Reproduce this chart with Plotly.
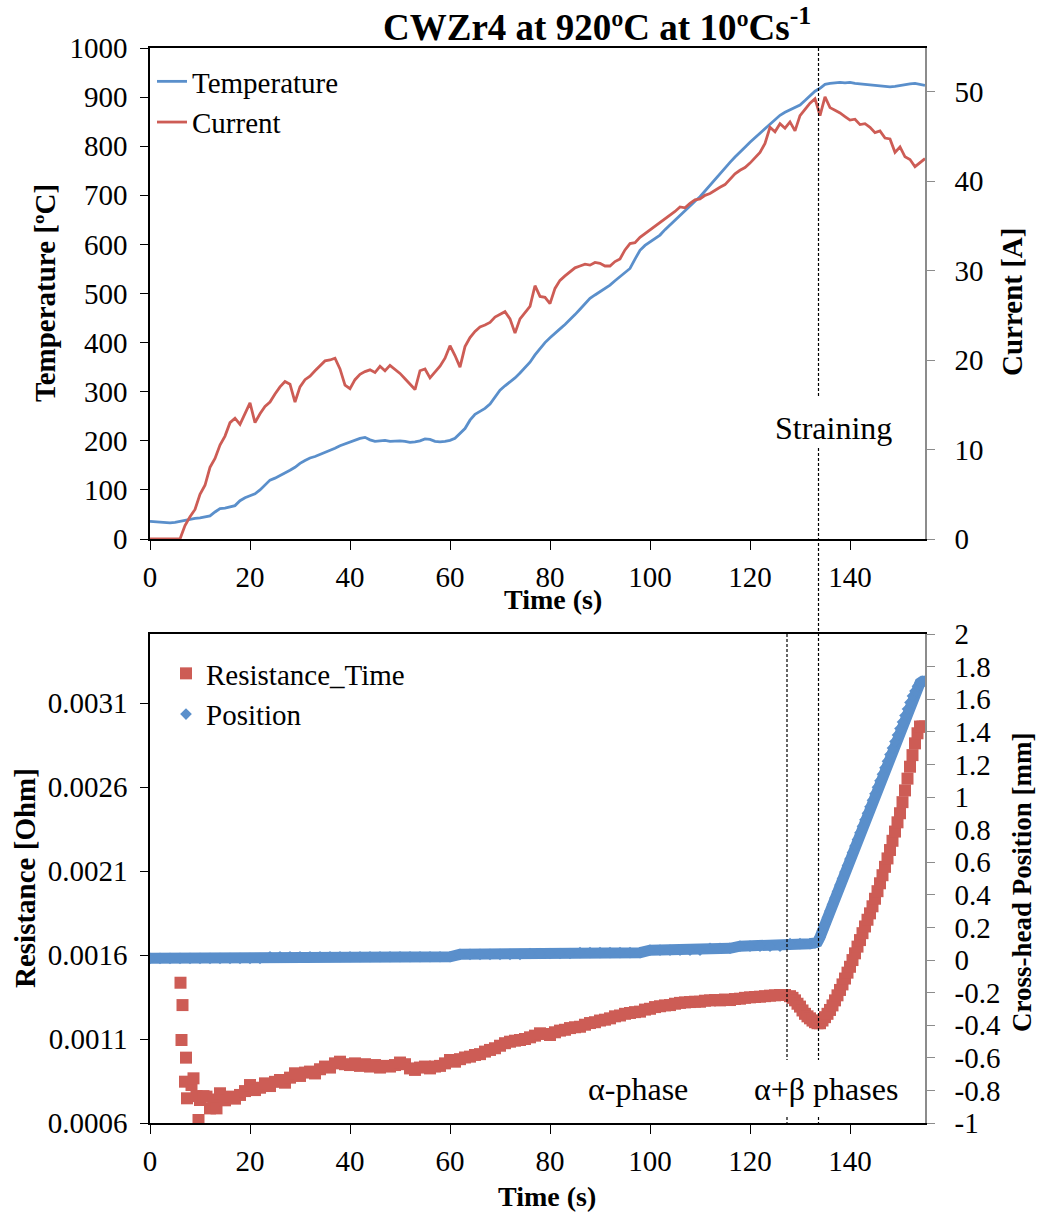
import plotly.graph_objects as go

# ---------------- data ----------------
time_top = list(range(0, 156))
temperature = [36, 35, 34, 33, 33, 34, 36, 38, 41, 42, 43, 45, 47, 55, 62, 63, 65, 68, 78, 84,
               88, 92, 100, 110, 120, 124, 129, 135, 140, 146, 154, 160, 165, 168, 172, 177, 181, 185, 190, 194,
               198, 201, 205, 207, 202, 199, 200, 201, 199, 200, 200, 199, 197, 198, 200, 204, 203, 199, 198, 199,
               201, 205, 214, 225, 242, 254, 260, 266, 275, 290, 303, 312, 320, 328, 338, 348, 360, 375, 388, 400,
               410, 420, 428, 437, 446, 457, 468, 480, 490, 497, 504, 511, 517, 526, 534, 542, 551, 570, 588, 598,
               605, 612, 619, 630, 640, 650, 660, 669, 678, 688, 697, 709, 721, 733, 745, 756, 767, 778, 789, 798,
               808, 817, 826, 836, 845, 854, 863, 869, 874, 879, 884, 893, 903, 912, 918, 926, 928, 929, 930, 929,
               930, 928, 927, 926, 925, 924, 923, 922, 921, 922, 924, 925, 927, 928, 926, 924]
current = [0, 0, 0, 0, 0, 0, 0, 1.5, 2.5, 3.3, 5.0, 6.0, 8.0, 9.0, 10.5, 11.5, 13.0, 13.5, 12.8, 14.0,
           15.2, 13.0, 14.0, 14.8, 15.3, 16.2, 17.0, 17.6, 17.3, 15.3, 17.0, 17.8, 18.2, 18.8, 19.3, 19.9, 20.0, 20.2, 19.0, 17.2,
           16.8, 17.8, 18.4, 18.7, 18.9, 18.6, 19.3, 18.8, 19.4, 19.0, 18.5, 17.9, 17.3, 16.7, 18.8, 19.0, 18.0, 18.6, 19.3, 20.2,
           21.6, 20.5, 19.2, 21.5, 22.5, 23.2, 23.7, 23.9, 24.2, 24.8, 25.1, 25.4, 24.6, 23.0, 24.6, 25.3, 26.0, 28.3, 27.1, 27.0,
           26.3, 28.0, 28.9, 29.4, 29.8, 30.3, 30.5, 30.7, 30.6, 30.9, 30.8, 30.5, 30.5, 31.0, 31.3, 32.3, 33.0, 33.1, 33.7, 34.1,
           34.6, 34.9, 35.3, 35.8, 36.1, 36.6, 37.1, 37.0, 37.5, 37.9, 38.0, 38.4, 38.6, 39.0, 39.3, 39.6, 40.2, 40.8, 41.2, 41.5,
           42.0, 42.6, 43.2, 44.2, 46.0, 45.5, 46.4, 45.9, 46.6, 45.6, 47.3, 48.0, 48.7, 49.2, 47.3, 49.4, 48.2, 47.9, 47.6, 47.2,
           46.8, 46.9, 46.3, 46.4, 46.0, 45.4, 45.6, 44.8, 44.7, 43.2, 43.8, 42.7, 42.4, 41.6, 42.0, 42.5]

res_time = [6.1, 6.3, 6.5, 7.0, 7.2, 7.4, 8.3, 8.7, 9.3, 9.7, 10.0, 10.7, 11.3, 12.0, 12.7, 13.3, 14, 15, 16, 17,
            18, 19, 20, 21, 22, 23, 24, 25, 26, 27, 28, 29, 30, 31, 32, 33, 34, 35, 36, 37,
            38, 39, 40, 41, 42, 43, 44, 45, 46, 47, 48, 49, 50, 51, 52, 53, 54, 55, 56, 57,
            58, 59, 60, 61, 62, 63, 64, 65, 66, 67, 68, 69, 70, 71, 72, 73, 74, 75, 76, 77,
            78, 79, 80, 81, 82, 83, 84, 85, 86, 87, 88, 89, 90, 91, 92, 93, 94, 95, 96, 97,
            98, 99, 100, 101, 102, 103, 104, 105, 106, 107, 108, 109, 110, 111, 112, 113, 114, 115, 116, 117,
            118, 119, 120, 121, 122, 123, 124, 125, 126, 127, 128, 128.5, 129, 129.5, 130, 130.5, 131, 131.5, 132, 132.5,
            133, 133.5, 134, 134.5, 135, 135.5, 136, 136.5, 137, 137.5, 138, 138.5, 139, 139.5, 140, 140.5, 141, 141.5, 142, 142.5,
            143, 143.5, 144, 144.5, 145, 145.5, 146, 146.5, 147, 147.5, 148, 148.5, 149, 149.5, 150, 150.5, 151, 151.5, 152, 152.5,
            153, 153.5, 154, 154.5, 155]
resistance = [0.001435, 0.001094, 0.001302, 0.000846, 0.000989, 0.000747, 0.000826, 0.000866, 0.000760, 0.000618,
              0.000737, 0.000760, 0.000757, 0.000687, 0.000740, 0.000687, 0.000777, 0.000735, 0.000757, 0.000745,
              0.000767, 0.000790, 0.000826, 0.000796, 0.000810, 0.000836, 0.000820, 0.000845, 0.000856, 0.000840,
              0.000870, 0.000896, 0.000880, 0.000900, 0.000906, 0.000895, 0.000920, 0.000936, 0.000930, 0.000955,
              0.000965, 0.000950, 0.000945, 0.000955, 0.000940, 0.000950, 0.000936, 0.000945, 0.000930, 0.000940,
              0.000936, 0.000945, 0.000960, 0.000950, 0.000925, 0.000916, 0.000930, 0.000936, 0.000925, 0.000936,
              0.000940, 0.000955, 0.000975, 0.000965, 0.000980, 0.000990, 0.000995, 0.001005, 0.001010, 0.001025,
              0.001035, 0.001045, 0.001060, 0.001075, 0.001084, 0.001090, 0.001094, 0.001100, 0.001110, 0.001120,
              0.001134, 0.001130, 0.001124, 0.001140, 0.001150, 0.001155, 0.001165, 0.001170, 0.001173, 0.001185,
              0.001195, 0.001200, 0.001210, 0.001215, 0.001223, 0.001235, 0.001240, 0.001250, 0.001255, 0.001260,
              0.001263, 0.001275, 0.001280, 0.001290, 0.001295, 0.001300, 0.001302, 0.001310, 0.001315, 0.001318,
              0.001320, 0.001322, 0.001322, 0.001328, 0.001330, 0.001332, 0.001330, 0.001335, 0.001332, 0.001338,
              0.001340, 0.001345, 0.001348, 0.001350, 0.001352, 0.001355, 0.001358, 0.001360, 0.001362, 0.001362,
              0.001355, 0.001345, 0.001330, 0.001310, 0.001293, 0.001270, 0.001250, 0.001235, 0.001223, 0.001210,
              0.001200, 0.001194, 0.001194, 0.001210, 0.001230, 0.001250, 0.001273, 0.001300, 0.001330, 0.001360,
              0.001392, 0.001425, 0.001460, 0.001495, 0.001530, 0.001570, 0.001610, 0.001650, 0.001689, 0.001730,
              0.001770, 0.001810, 0.001848, 0.001890, 0.001935, 0.001980, 0.002027, 0.002075, 0.002125, 0.002175,
              0.002225, 0.002280, 0.002335, 0.002390, 0.002444, 0.002510, 0.002580, 0.002650, 0.002721, 0.002790,
              0.002860, 0.002920, 0.002960, 0.002960, 0.002960]

pos_time = [0, 2, 4, 6, 8, 10, 12, 14, 16, 18, 20, 22, 24, 26, 28, 30, 32, 34, 36, 38,
            40, 42, 44, 46, 48, 50, 52, 54, 56, 58, 60, 62, 64, 66, 68, 70, 72, 74, 76, 78,
            80, 82, 84, 86, 88, 90, 92, 94, 96, 98, 100, 102, 104, 106, 108, 110, 112, 114, 116, 118,
            120, 122, 124, 126, 128, 130, 132, 133, 133.5, 134, 134.5, 135, 135.5, 136, 136.5, 137, 137.5, 138,
            138.5, 139, 139.5, 140, 140.5, 141, 141.5, 142, 142.5, 143, 143.5, 144, 144.5, 145, 145.5, 146, 146.5, 147,
            147.5, 148, 148.5, 149, 149.5, 150, 150.5, 151, 151.5, 152, 152.5, 153, 153.5, 154, 154.5, 155]
position = [0.010, 0.010, 0.010, 0.010, 0.010, 0.010, 0.010, 0.010, 0.010, 0.010, 0.010, 0.010, 0.020, 0.020, 0.020, 0.020, 0.020, 0.020, 0.020, 0.020,
            0.020, 0.020, 0.020, 0.020, 0.020, 0.020, 0.020, 0.020, 0.020, 0.020, 0.020, 0.035, 0.035, 0.035, 0.035, 0.035, 0.035, 0.035, 0.040, 0.040,
            0.040, 0.040, 0.040, 0.045, 0.045, 0.045, 0.045, 0.045, 0.045, 0.045, 0.060, 0.060, 0.060, 0.060, 0.060, 0.060, 0.072, 0.072, 0.072, 0.085,
            0.085, 0.085, 0.085, 0.085, 0.100, 0.100, 0.100, 0.105, 0.110, 0.140, 0.180, 0.220, 0.260, 0.300, 0.340, 0.380, 0.420, 0.460,
            0.500, 0.540, 0.580, 0.620, 0.660, 0.700, 0.740, 0.780, 0.820, 0.860, 0.900, 0.940, 0.980, 1.020, 1.060, 1.100, 1.140, 1.180,
            1.220, 1.260, 1.300, 1.340, 1.380, 1.420, 1.460, 1.500, 1.540, 1.580, 1.620, 1.650, 1.680, 1.700, 1.710, 1.710]

x_ticks = [0, 20, 40, 60, 80, 100, 120, 140]
res_tickvals = [0.0006, 0.0011, 0.0016, 0.0021, 0.0026, 0.0031]
res_ticktext = ["0.0006", "0.0011", "0.0016", "0.0021", "0.0026", "0.0031"]
pos_tickvals = [-1, -0.8, -0.6, -0.4, -0.2, 0, 0.2, 0.4, 0.6, 0.8, 1, 1.2, 1.4, 1.6, 1.8, 2]
pos_ticktext = ["-1", "-0.8", "-0.6", "-0.4", "-0.2", "0", "0.2", "0.4", "0.6", "0.8", "1", "1.2", "1.4", "1.6", "1.8", "2"]

straining_t = 133.7
alpha_beta_t = 127.4

# ---------------- style ----------------
BLUE = "#5A8FCB"
RED = "#CD5C55"
GRAY = "#8C8C8C"
FONT = "Liberation Serif"
W, H = 1040, 1215
L, R, T, B = 150, 115, 48, 92
PW, PH = W - L - R, H - T - B


def fx(px):
    return (px - L) / PW


def fy(py):
    return (H - B - py) / PH


top_dom = [fy(539), 1.0]
bot_dom = [0.0, fy(634)]

fig = go.Figure()
fig.add_trace(go.Scatter(x=time_top, y=temperature, name="Temperature", mode="lines",
                         line=dict(color=BLUE, width=2.8), xaxis="x", yaxis="y", legend="legend"))
fig.add_trace(go.Scatter(x=time_top, y=current, name="Current", mode="lines",
                         line=dict(color=RED, width=2.8), xaxis="x", yaxis="y2", legend="legend"))
fig.add_trace(go.Scatter(x=res_time, y=resistance, name="Resistance_Time", mode="markers",
                         marker=dict(symbol="square", size=12, color=RED), xaxis="x2", yaxis="y3",
                         legend="legend2"))
# dense marker band of the position series
fig.add_trace(go.Scatter(x=pos_time, y=position, mode="lines", showlegend=False, hoverinfo="skip",
                         line=dict(color=BLUE, width=11), xaxis="x2", yaxis="y4"))
fig.add_trace(go.Scatter(x=pos_time, y=position, name="Position", mode="markers",
                         marker=dict(symbol="diamond", size=9, color=BLUE), xaxis="x2", yaxis="y4",
                         legend="legend2"))

tickfont = dict(family=FONT, size=29, color="black")
xcommon = dict(range=[0, 155], tickvals=x_ticks, showline=True, linecolor="black", linewidth=1.5,
               mirror=True, ticks="outside", ticklen=9, tickcolor="black", tickfont=tickfont,
               showgrid=False, zeroline=False, ticklabelstandoff=2)

fig.update_layout(
    width=W, height=H,
    margin=dict(l=L, r=R, t=T, b=B),
    paper_bgcolor="white", plot_bgcolor="white",
    font=dict(family=FONT, color="black"),
    showlegend=True,
    xaxis=dict(domain=[0, 1], anchor="y", **xcommon),
    xaxis2=dict(domain=[0, 1], anchor="y3", **xcommon),
    yaxis=dict(domain=top_dom, range=[0, 1000], dtick=100, showline=True, linecolor="black", linewidth=1.5,
               ticks="outside", ticklen=8, tickcolor="black", tickfont=tickfont, showgrid=False,
               zeroline=False, ticklabelstandoff=7, anchor="x"),
    yaxis2=dict(domain=top_dom, range=[0, 54.86], dtick=10, overlaying="y", side="right", anchor="x",
                showline=True, linecolor=GRAY, linewidth=1.5, ticks="outside", ticklen=8, tickcolor=GRAY,
                tickfont=tickfont, showgrid=False, zeroline=False, ticklabelstandoff=14),
    yaxis3=dict(domain=bot_dom, range=[0.0006, 0.003511], tickvals=res_tickvals, ticktext=res_ticktext,
                showline=True, linecolor="black", linewidth=1.5, ticks="outside", ticklen=8, tickcolor="black",
                tickfont=tickfont, showgrid=False, zeroline=False, ticklabelstandoff=7, anchor="x2"),
    yaxis4=dict(domain=bot_dom, range=[-1, 2], tickvals=pos_tickvals, ticktext=pos_ticktext,
                overlaying="y3", side="right", anchor="x2", showline=True, linecolor=GRAY, linewidth=1.5,
                ticks="outside", ticklen=8, tickcolor=GRAY, tickfont=tickfont, showgrid=False,
                zeroline=False, ticklabelstandoff=14),
    legend=dict(x=fx(152), y=fy(56), xanchor="left", yanchor="top", bgcolor="rgba(0,0,0,0)",
                font=dict(family=FONT, size=29, color="black"), itemwidth=30, tracegroupgap=0),
    legend2=dict(x=fx(166), y=fy(648), xanchor="left", yanchor="top", bgcolor="rgba(0,0,0,0)",
                 font=dict(family=FONT, size=29, color="black"), itemwidth=30),
)

# dashed guide lines
dash = dict(color="black", width=1.2, dash="3px,2px")
segments = [
    (straining_t, fy(48), fy(398)),
    (straining_t, fy(448), fy(1060)),
    (straining_t, fy(1117), fy(1123)),
    (alpha_beta_t, fy(634), fy(1060)),
    (alpha_beta_t, fy(1117), fy(1123)),
]
for xv, y0, y1 in segments:
    fig.add_shape(type="line", xref="x", yref="paper", x0=xv, x1=xv, y0=y0, y1=y1, line=dash)

ann = []
ann.append(dict(text="<b>CWZr4 at 920ºC at 10ºCs<sup>-1</sup></b>", x=fx(597), y=fy(25),
                font=dict(size=37)))
ann.append(dict(text="<b>Temperature [ºC]</b>", x=fx(45), y=fy(293), textangle=-90, font=dict(size=29)))
ann.append(dict(text="<b>Current [A]</b>", x=fx(1012), y=fy(302), textangle=-90, font=dict(size=29)))
ann.append(dict(text="<b>Time (s)</b>", x=fx(553), y=fy(599), font=dict(size=28)))
ann.append(dict(text="<b>Time (s)</b>", x=fx(547), y=fy(1196), font=dict(size=28)))
ann.append(dict(text="<b>Resistance [Ohm]</b>", x=fx(25), y=fy(878), textangle=-90, font=dict(size=29)))
ann.append(dict(text="<b>Cross-head Position [mm]</b>", x=fx(1022), y=fy(882), textangle=-90,
                font=dict(size=27)))
ann.append(dict(text="Straining", x=fx(833), y=fy(428), font=dict(size=32)))
ann.append(dict(text="α-phase", x=fx(638), y=fy(1089), font=dict(size=32)))
ann.append(dict(text="α+β phases", x=fx(826), y=fy(1089), font=dict(size=32)))
for a in ann:
    a.update(xref="paper", yref="paper", showarrow=False, xanchor="center", yanchor="middle")
    a["font"].update(family=FONT, color="black")
    fig.add_annotation(**a)

fig.write_html("out.html")
